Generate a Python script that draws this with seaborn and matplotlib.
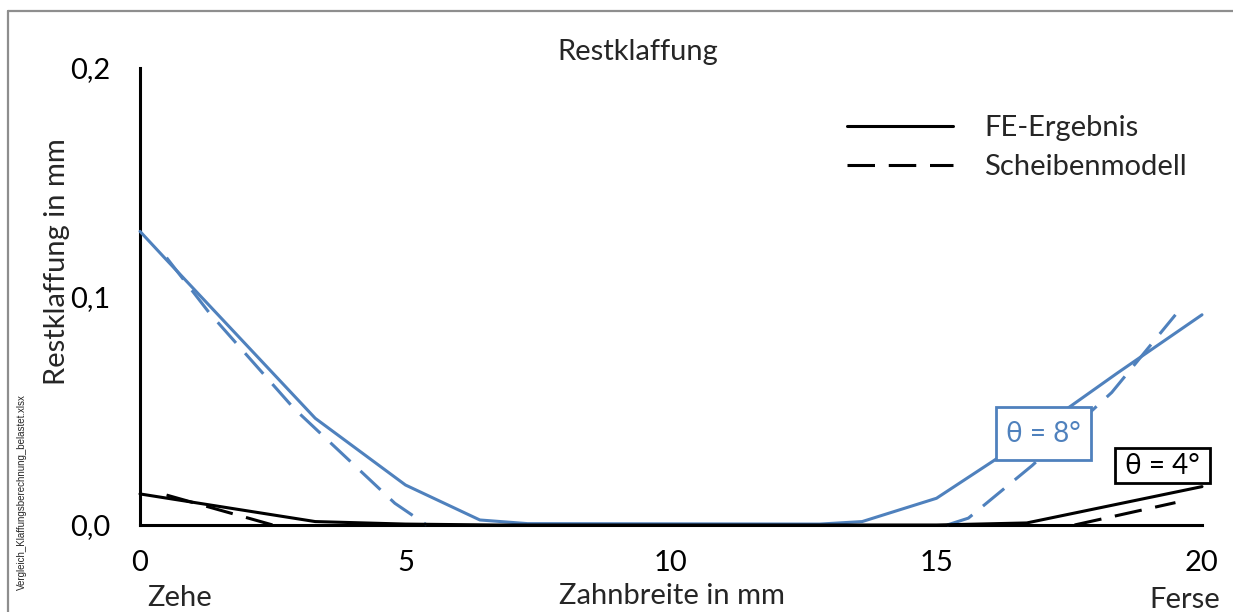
import matplotlib
matplotlib.use("Agg")
import matplotlib.pyplot as plt
from matplotlib.lines import Line2D
from matplotlib.patches import Rectangle
import seaborn as sns

# ---------------- data ----------------
# FE-Ergebnis, theta = 8 deg (blue solid)
fe8_x = [0.0, 0.5, 3.3, 5.0, 6.4, 7.3, 12.8, 13.6, 15.0, 16.1, 18.4, 20.0]
fe8_y = [0.1285, 0.116, 0.0467, 0.0175, 0.0022, 0.0006, 0.0004, 0.0015, 0.0117, 0.0285, 0.0664, 0.092]
# Scheibenmodell, theta = 8 deg (blue dashed), toe and heel parts
sm8_toe_x = [0.5, 1.3, 2.9, 4.8, 5.4]
sm8_toe_y = [0.117, 0.093, 0.051, 0.0095, 0.0]
sm8_heel_x = [15.2, 15.6, 16.8, 18.3, 19.5]
sm8_heel_y = [0.0, 0.003, 0.026, 0.058, 0.092]
# FE-Ergebnis, theta = 4 deg (black solid)
fe4_x = [0.0, 3.3, 5.0, 6.7, 15.0, 16.7, 20.0]
fe4_y = [0.0136, 0.0015, 0.0004, 0.0, 0.0, 0.0009, 0.0168]
# Scheibenmodell, theta = 4 deg (black dashed)
sm4_toe_x = [0.5, 2.5]
sm4_toe_y = [0.0131, 0.0]
sm4_heel_x = [17.6, 19.5]
sm4_heel_y = [0.0, 0.0098]

x_ticks = [0, 5, 10, 15, 20]
x_tick_labels = ["0", "5", "10", "15", "20"]
y_ticks = [0.0, 0.1, 0.2]
y_tick_labels = ["0,0", "0,1", "0,2"]
legend_labels = ["FE-Ergebnis", "Scheibenmodell"]

BLUE = "#4F81BD"
BLACK = "#000000"

# ---------------- style ----------------
sns.set_theme(style="white")
plt.rcParams["font.family"] = ["Lato", "DejaVu Sans"]

W, H = 1233, 612
fig = plt.figure(figsize=(W / 100, H / 100), dpi=100)
fig.patch.set_facecolor("white")


def fx(px):
    return px / W


def fy(py):
    return 1 - py / H


ax = fig.add_axes([fx(140), fy(525), (1202 - 140) / W, (525 - 68) / H])
ax.set_facecolor("white")

LW = 2.2
DASH = (0, (9, 4.5))
FS = 21

common = dict(ax=ax, linewidth=LW, clip_on=False, zorder=3)
sns.lineplot(x=fe8_x, y=fe8_y, color=BLUE, **common)
sns.lineplot(x=sm8_toe_x, y=sm8_toe_y, color=BLUE, linestyle=DASH, **common)
sns.lineplot(x=sm8_heel_x, y=sm8_heel_y, color=BLUE, linestyle=DASH, **common)
sns.lineplot(x=fe4_x, y=fe4_y, color=BLACK, **common)
sns.lineplot(x=sm4_toe_x, y=sm4_toe_y, color=BLACK, linestyle=DASH, **common)
sns.lineplot(x=sm4_heel_x, y=sm4_heel_y, color=BLACK, linestyle=DASH, **common)

ax.set_xlim(0, 20)
ax.set_ylim(0, 0.2)
ax.set_xticks(x_ticks, x_tick_labels)
ax.set_yticks(y_ticks, y_tick_labels)
ax.set_xlabel("")
ax.set_ylabel("")
for s in ["top", "right"]:
    ax.spines[s].set_visible(False)
for s in ["left", "bottom"]:
    ax.spines[s].set_color("black")
    ax.spines[s].set_linewidth(LW)
ax.tick_params(axis="both", which="major", direction="out", length=7, width=LW,
               color="black", labelsize=FS, labelcolor="black", pad=11)
ax.tick_params(axis="y", pad=14)
ax.grid(False)

# legend
handles = [Line2D([], [], color=BLACK, lw=LW),
           Line2D([], [], color=BLACK, lw=LW, linestyle=DASH)]
leg = ax.legend(handles, legend_labels, loc="upper left",
                bbox_to_anchor=(fx(847), fy(115)), bbox_transform=fig.transFigure,
                frameon=False, borderpad=0, borderaxespad=0, handlelength=3.65,
                handletextpad=1.05, labelspacing=0.44, fontsize=FS)

# theta boxes (data coordinates)
ax.add_patch(Rectangle((16.12, 0.02845), 17.91 - 16.12, 0.0516 - 0.02845,
                       facecolor="white", edgecolor=BLUE, linewidth=2.0,
                       clip_on=False, zorder=4))
ax.text(17.01, 0.0400, "θ = 8°", color=BLUE, fontsize=20, ha="center", va="center",
        zorder=5, clip_on=False)
ax.add_patch(Rectangle((18.36, 0.0184), 20.15 - 18.36, 0.0337 - 0.0184,
                       facecolor="white", edgecolor=BLACK, linewidth=2.0,
                       clip_on=False, zorder=4))
ax.text(19.26, 0.0258, "θ = 4°", color=BLACK, fontsize=20, ha="center", va="center",
        zorder=5, clip_on=False)

# texts
fig.text(fx(638), fy(60), "Restklaffung", ha="center", va="baseline", fontsize=FS)
fig.text(fx(57), fy(262), "Restklaffung in mm", ha="center", va="center",
         rotation=90, fontsize=FS)
fig.text(fx(672), fy(604), "Zahnbreite in mm", ha="center", va="baseline", fontsize=FS)
fig.text(fx(180), fy(606), "Zehe", ha="center", va="baseline", fontsize=FS)
fig.text(fx(1185), fy(608), "Ferse", ha="center", va="baseline", fontsize=FS)
fig.text(fx(22), fy(590), "Vergleich_Klaffungsberechnung_belastet.xlsx", ha="center",
         va="bottom", rotation=90, fontsize=7, family=["Liberation Sans", "DejaVu Sans"])

# outer grey frame (top and left edges visible)
fig.add_artist(Line2D([fx(8), 1.0], [fy(11), fy(11)], color="#8e8e8e", lw=1.6,
                      transform=fig.transFigure))
fig.add_artist(Line2D([fx(8), fx(8)], [0.0, fy(11)], color="#8e8e8e", lw=1.6,
                      transform=fig.transFigure))

fig.savefig("out.png", dpi=100, facecolor="white")
